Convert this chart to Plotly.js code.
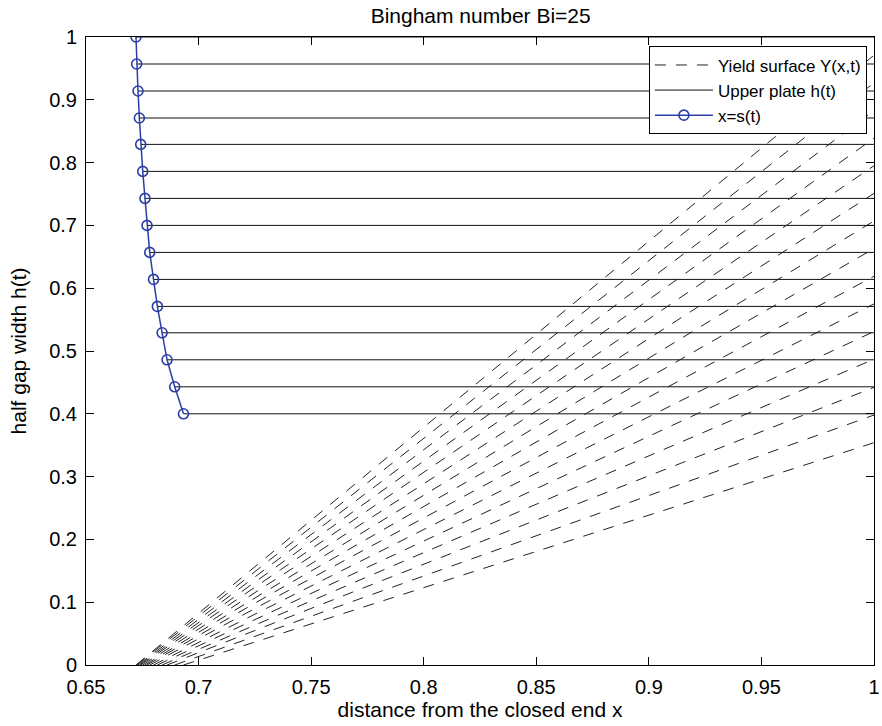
<!DOCTYPE html>
<html>
<head>
<meta charset="utf-8">
<script src="https://cdn.plot.ly/plotly-3.0.1.min.js"></script>
<style>html,body{margin:0;padding:0;background:#fff}#chart{width:882px;height:726px}</style>
</head>
<body>
<div id="chart"></div>
<script>
// Upper plate positions h(t), from top (t=0) down
const hVals = [1.000, 0.957, 0.914, 0.871, 0.829, 0.786, 0.743, 0.700, 0.657, 0.614, 0.571, 0.529, 0.486, 0.443, 0.400];
// Position of x=s(t) for each plate position
const sVals = [0.6722, 0.6725, 0.6731, 0.6737, 0.6743, 0.6752, 0.6762, 0.6771, 0.6783, 0.6800, 0.6817, 0.6838, 0.6860, 0.6894, 0.6933];
// Yield surface Y(x,t) at the open end x=1, one per time
const yieldAtEnd = [0.971, 0.927, 0.883, 0.839, 0.795, 0.751, 0.707, 0.663, 0.619, 0.575, 0.531, 0.487, 0.442, 0.398, 0.354];
const xOpenEnd = 1.0;
const xTicks = [0.65, 0.7, 0.75, 0.8, 0.85, 0.9, 0.95, 1];
const yTicks = [0, 0.1, 0.2, 0.3, 0.4, 0.5, 0.6, 0.7, 0.8, 0.9, 1];

const FONT = 'Liberation Sans, Arial, Helvetica, sans-serif';

// Yield surface curves: start at (s, 0), end at (1, Y)
const yx = [], yy = [];
sVals.forEach((s, i) => { yx.push(s, xOpenEnd, null); yy.push(0, yieldAtEnd[i], null); });
// Upper plate lines: from s(t) to x=1 at h(t)
const px = [], py = [];
sVals.forEach((s, i) => { px.push(s, xOpenEnd, null); py.push(hVals[i], hVals[i], null); });

const traces = [
  { x: yx, y: yy, mode: 'lines', name: 'Yield surface Y(x,t)', connectgaps: false,
    line: { color: '#222', width: 1, dash: '11px,10px' }, hoverinfo: 'skip' },
  { x: px, y: py, mode: 'lines', name: 'Upper plate h(t)', connectgaps: false,
    line: { color: '#111', width: 1 }, hoverinfo: 'skip' },
  { x: sVals, y: hVals, mode: 'lines+markers', name: 'x=s(t)',
    line: { color: '#2b3ea6', width: 1.5 },
    marker: { symbol: 'circle-open', size: 10, color: '#2b3ea6', line: { width: 1.6, color: '#2b3ea6' } } }
];

const axisCommon = {
  showgrid: false, zeroline: false, showline: true, linecolor: '#000', linewidth: 1,
  mirror: 'ticks', ticks: 'inside', ticklen: 8, tickcolor: '#000', tickwidth: 1,
  ticklabelstandoff: 4,
  tickfont: { family: FONT, size: 20, color: '#000' }
};

const layout = {
  width: 882, height: 726,
  margin: { l: 86, r: 8, t: 37, b: 61 },
  paper_bgcolor: '#fff', plot_bgcolor: '#fff',
  font: { family: FONT, color: '#000' },
  title: { text: 'Bingham number Bi=25', font: { family: FONT, size: 21, color: '#000' },
           x: 0.545, xanchor: 'center', y: 0.978, yanchor: 'middle', yref: 'container' },
  xaxis: Object.assign({}, axisCommon, {
    range: [0.65, 1], tickvals: xTicks, ticktext: xTicks.map(String),
    title: { text: 'distance from the closed end x', font: { family: FONT, size: 21 }, standoff: 5 }
  }),
  yaxis: Object.assign({}, axisCommon, {
    range: [0, 1], tickvals: yTicks, ticktext: yTicks.map(String),
    title: { text: 'half gap width h(t)', font: { family: FONT, size: 21 }, standoff: 16 }
  }),
  showlegend: true,
  legend: {
    x: 0.991, y: 0.985, xanchor: 'right', yanchor: 'top',
    bgcolor: '#fff', bordercolor: '#000', borderwidth: 1,
    font: { family: FONT, size: 17, color: '#000' },
    itemwidth: 58, tracegroupgap: 0
  }
};

Plotly.newPlot('chart', traces, layout, { staticPlot: true, displayModeBar: false });
</script>
</body>
</html>
